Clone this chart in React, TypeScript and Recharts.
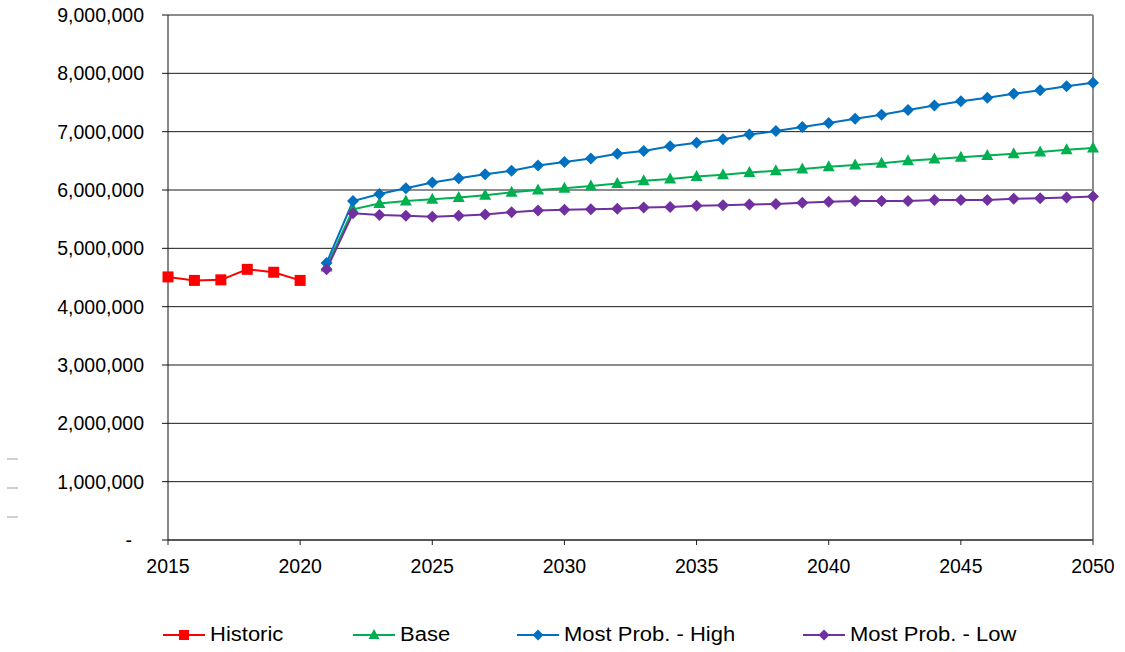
import { CartesianGrid, Line, LineChart, ReferenceLine, XAxis, YAxis } from "recharts";

const years = [
  2015, 2016, 2017, 2018, 2019, 2020, 2021, 2022, 2023, 2024, 2025, 2026,
  2027, 2028, 2029, 2030, 2031, 2032, 2033, 2034, 2035, 2036, 2037, 2038,
  2039, 2040, 2041, 2042, 2043, 2044, 2045, 2046, 2047, 2048, 2049, 2050,
];

// 2015-2020
const historic = [4510000, 4450000, 4460000, 4640000, 4590000, 4450000];

// 2021-2050
const base = [
  4680000, 5670000, 5770000, 5810000, 5840000, 5870000, 5910000, 5960000,
  6000000, 6030000, 6070000, 6110000, 6160000, 6190000, 6230000, 6260000,
  6300000, 6330000, 6360000, 6400000, 6430000, 6460000, 6500000, 6530000,
  6560000, 6590000, 6620000, 6650000, 6690000, 6720000,
];
const high = [
  4750000, 5810000, 5930000, 6030000, 6130000, 6200000, 6270000, 6330000,
  6420000, 6480000, 6540000, 6620000, 6670000, 6750000, 6810000, 6870000,
  6950000, 7010000, 7080000, 7150000, 7220000, 7290000, 7370000, 7450000,
  7520000, 7580000, 7650000, 7710000, 7780000, 7840000,
];
const low = [
  4640000, 5600000, 5570000, 5560000, 5540000, 5560000, 5580000, 5620000,
  5650000, 5660000, 5670000, 5680000, 5700000, 5710000, 5730000, 5740000,
  5750000, 5760000, 5780000, 5800000, 5810000, 5810000, 5810000, 5830000,
  5830000, 5830000, 5850000, 5860000, 5870000, 5890000,
];

const yTicks = [0, 1000000, 2000000, 3000000, 4000000, 5000000, 6000000, 7000000, 8000000, 9000000];
const xTicks = [2015, 2020, 2025, 2030, 2035, 2040, 2045, 2050];

const data = years.map((year, i) => ({
  year,
  historic: i < historic.length ? historic[i] : null,
  base: i >= 6 ? base[i - 6] : null,
  high: i >= 6 ? high[i - 6] : null,
  low: i >= 6 ? low[i - 6] : null,
}));

const FONT = "'Liberation Sans', Arial, sans-serif";

const Square = (props: any) => {
  const { cx, cy, fill } = props;
  if (cy == null || cx == null) return null;
  return <rect x={cx - 5.5} y={cy - 5.5} width={11} height={11} fill={fill} />;
};

const Triangle = (props: any) => {
  const { cx, cy, fill } = props;
  if (cy == null || cx == null) return null;
  return <polygon points={`${cx},${cy - 6.5} ${cx - 6},${cy + 4.5} ${cx + 6},${cy + 4.5}`} fill={fill} />;
};

const Diamond = (props: any) => {
  const { cx, cy, fill } = props;
  if (cy == null || cx == null) return null;
  return <polygon points={`${cx},${cy - 6} ${cx + 6},${cy} ${cx},${cy + 6} ${cx - 6},${cy}`} fill={fill} />;
};

const YTick = (props: any) => {
  const { x, y, payload } = props;
  const v = payload.value as number;
  return (
    <text
      x={v === 0 ? x - 12 : x}
      y={y}
      dy="0.355em"
      textAnchor="end"
      fill="#000"
      fontSize={19.5}
      fontFamily={FONT}
    >
      {v === 0 ? "-" : v.toLocaleString("en-US")}
    </text>
  );
};

const legendItems = [
  { label: "Historic", color: "#FF0000", shape: "square", left: 163 },
  { label: "Base", color: "#00B050", shape: "triangle", left: 353 },
  { label: "Most Prob. - High", color: "#0070C0", shape: "diamond", left: 517 },
  { label: "Most Prob. - Low", color: "#7030A0", shape: "diamond", left: 803 },
];

function LegendIcon({ color, shape }: { color: string; shape: string }) {
  return (
    <svg width={42} height={14} style={{ display: "block" }}>
      <line x1={0} y1={7} x2={42} y2={7} stroke={color} strokeWidth={2} />
      {shape === "square" && <rect x={16} y={2} width={10} height={10} fill={color} />}
      {shape === "triangle" && <polygon points="21,1 15.5,11 26.5,11" fill={color} />}
      {shape === "diamond" && <polygon points="21,1.5 26.5,7 21,12.5 15.5,7" fill={color} />}
    </svg>
  );
}

export default function App() {
  return (
    <div style={{ position: "absolute", left: 0, top: 0, width: 1125, height: 652, background: "#fff" }}>
      <LineChart
        width={1125}
        height={652}
        data={data}
        margin={{ top: 15, right: 32, left: 0, bottom: 72 }}
      >
        <CartesianGrid vertical={false} stroke="#1a1a1a" strokeWidth={1} />
        <XAxis
          dataKey="year"
          type="number"
          domain={[2015, 2050]}
          ticks={xTicks}
          interval={0}
          height={40}
          stroke="#222"
          tickSize={5}
          tickMargin={14}
          tick={{ fill: "#000", fontSize: 19.5, fontFamily: FONT }}
        />
        <YAxis
          width={168}
          domain={[0, 9000000]}
          ticks={yTicks}
          interval={0}
          stroke="#111"
          tickSize={6}
          tickMargin={18}
          tick={<YTick />}
        />
        <ReferenceLine y={9000000} stroke="#8c8c8c" strokeWidth={2} />
        <ReferenceLine x={2050} stroke="#8c8c8c" strokeWidth={2} />
        <Line
          dataKey="historic"
          stroke="#FF0000"
          strokeWidth={2}
          dot={<Square />}
          fill="#FF0000"
          connectNulls={false}
          isAnimationActive={false}
        />
        <Line
          dataKey="base"
          stroke="#00B050"
          strokeWidth={2}
          dot={<Triangle />}
          fill="#00B050"
          isAnimationActive={false}
        />
        <Line
          dataKey="high"
          stroke="#0070C0"
          strokeWidth={2}
          dot={<Diamond />}
          fill="#0070C0"
          isAnimationActive={false}
        />
        <Line
          dataKey="low"
          stroke="#7030A0"
          strokeWidth={2}
          dot={<Diamond />}
          fill="#7030A0"
          isAnimationActive={false}
        />
      </LineChart>
      {legendItems.map((item) => (
        <div
          key={item.label}
          style={{
            position: "absolute",
            left: item.left,
            top: 623,
            display: "flex",
            alignItems: "center",
            fontFamily: FONT,
            fontSize: 20,
            color: "#000",
          }}
        >
          <LegendIcon color={item.color} shape={item.shape} />
          <span
            style={{
              marginLeft: 5,
              display: "inline-block",
              whiteSpace: "nowrap",
              transform: "scaleX(1.1)",
              transformOrigin: "left center",
            }}
          >
            {item.label}
          </span>
        </div>
      ))}
      {[459, 488, 517].map((t) => (
        <div
          key={t}
          style={{ position: "absolute", left: 7, top: t - 1, width: 11, height: 2, background: "#d0d0d0" }}
        />
      ))}
    </div>
  );
}
